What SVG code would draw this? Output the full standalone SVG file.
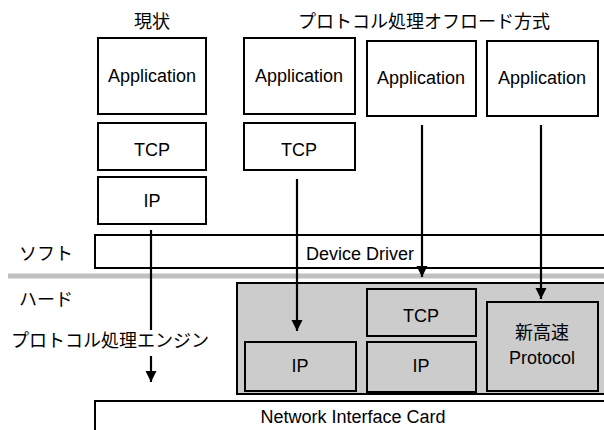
<svg xmlns="http://www.w3.org/2000/svg" width="604" height="430" viewBox="0 0 604 430">
  <style>
    .box { fill: #ffffff; stroke: #000000; stroke-width: 2; }
    .hw { fill: #cccccc; stroke: #000000; stroke-width: 2; }
    .t { font-family: "Liberation Sans", "Noto Sans CJK JP", sans-serif; font-size: 18px; fill: #000000; }
    .m { text-anchor: middle; }
    .wire { stroke: #000000; stroke-width: 2.2; fill: none; }
  </style>
  <defs>
    <marker id="head" markerUnits="userSpaceOnUse" markerWidth="14" markerHeight="14" viewBox="0 0 14 14" refX="12" refY="7" orient="auto">
      <path d="M1,1.5 L12,7 L1,12.5 Z" fill="#000000"/>
    </marker>
  </defs>
  <rect width="604" height="430" fill="#ffffff"/>

  <!-- headings -->
  <text class="t m" x="152" y="28">現状</text>
  <text class="t m" x="424" y="28">プロトコル処理オフロード方式</text>

  <!-- side labels -->
  <text class="t" x="19" y="260">ソフト</text>
  <text class="t" x="19" y="306">ハード</text>
  <text class="t" x="11" y="347">プロトコル処理エンジン</text>

  <!-- software / hardware divider -->
  <line x1="8" y1="276" x2="604" y2="276" stroke="#c0c0c0" stroke-width="5"/>

  <!-- conventional stack -->
  <g id="app1"><rect class="box" x="98" y="38" width="108" height="76"/><text class="t m" x="152" y="82">Application</text></g>
  <g id="tcp1"><rect class="box" x="98" y="123" width="108" height="47"/><text class="t m" x="152" y="156">TCP</text></g>
  <g id="ip1"><rect class="box" x="98" y="177" width="108" height="47"/><text class="t m" x="152" y="207">IP</text></g>

  <!-- offload variant 1 -->
  <g id="app2"><rect class="box" x="244" y="38" width="111" height="76"/><text class="t m" x="299" y="82">Application</text></g>
  <g id="tcp2"><rect class="box" x="244" y="123" width="111" height="47"/><text class="t m" x="299" y="156">TCP</text></g>

  <!-- offload variant 2 -->
  <g id="app3"><rect class="box" x="367" y="41" width="109" height="75"/><text class="t m" x="421" y="84">Application</text></g>

  <!-- offload variant 3 -->
  <g id="app4"><rect class="box" x="487" y="41" width="111" height="75"/><text class="t m" x="542" y="84">Application</text></g>

  <!-- device driver -->
  <g id="driver"><rect class="box" x="95" y="235" width="520" height="33"/><text class="t m" x="360" y="260">Device Driver</text></g>

  <!-- protocol processing engine -->
  <g id="engine"><rect class="hw" x="237" y="283" width="380" height="111"/></g>
  <g id="ip2"><rect class="hw" x="245" y="342" width="111" height="49"/><text class="t m" x="300" y="372">IP</text></g>
  <g id="tcp3"><rect class="hw" x="367" y="289" width="109" height="47"/><text class="t m" x="421" y="322">TCP</text></g>
  <g id="ip3"><rect class="hw" x="367" y="342" width="109" height="50"/><text class="t m" x="421" y="372">IP</text></g>
  <g id="proto"><rect class="hw" x="487" y="302" width="111" height="89"/><text class="t m" x="542" y="339">新高速</text><text class="t m" x="542" y="364">Protocol</text></g>

  <!-- network interface card -->
  <g id="nic"><rect class="box" x="95" y="401" width="520" height="40"/><text class="t m" x="353" y="423">Network Interface Card</text></g>

  <!-- data paths -->
  <g id="connectors">
    <line class="wire" x1="151" y1="230" x2="151" y2="330"/>
    <line class="wire" x1="151" y1="356" x2="151" y2="382" marker-end="url(#head)"/>
    <line class="wire" x1="297" y1="179" x2="297" y2="331" marker-end="url(#head)"/>
    <line class="wire" x1="422" y1="125" x2="422" y2="277" marker-end="url(#head)"/>
    <line class="wire" x1="541" y1="125" x2="541" y2="299" marker-end="url(#head)"/>
  </g>
</svg>
